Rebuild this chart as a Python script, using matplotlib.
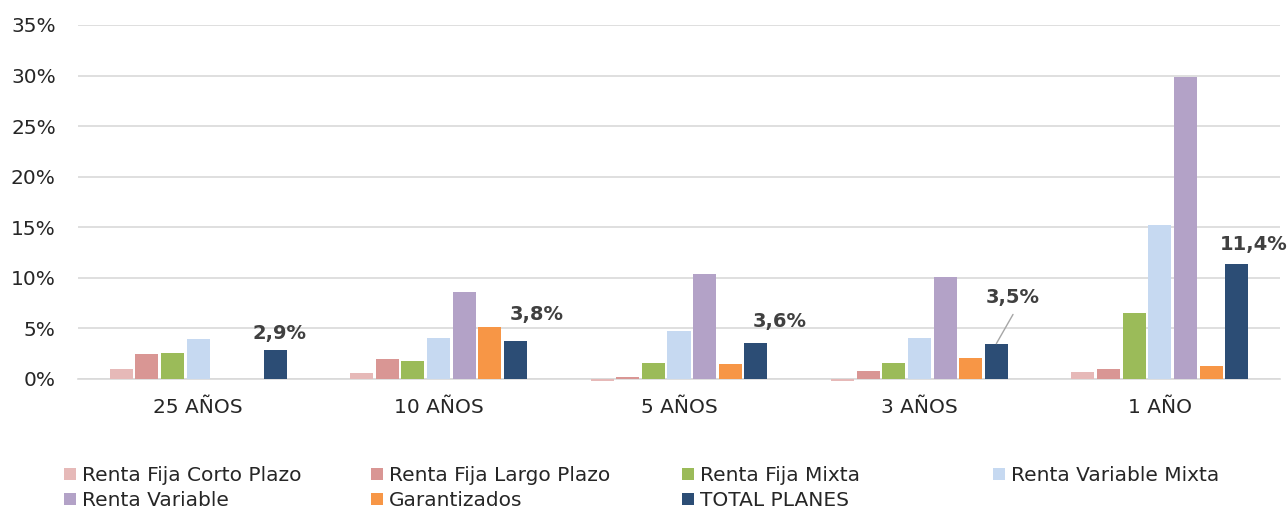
import matplotlib
matplotlib.use("Agg")
import matplotlib.pyplot as plt
import numpy as np

# datos
periodos = ["25 AÑOS", "10 AÑOS", "5 AÑOS", "3 AÑOS", "1 AÑO"]
series = ["Renta Fija Corto Plazo", "Renta Fija Largo Plazo", "Renta Fija Mixta",
          "Renta Variable Mixta", "Renta Variable", "Garantizados", "TOTAL PLANES"]
rf_corto = [1.0, 0.6, -0.15, -0.15, 0.7]
rf_largo = [2.5, 2.0, 0.15, 0.8, 1.0]
rf_mixta = [2.6, 1.8, 1.6, 1.6, 6.5]
rv_mixta = [4.0, 4.1, 4.7, 4.1, 15.2]
rv = [np.nan, 8.6, 10.4, 10.1, 29.9]
garantizados = [np.nan, 5.1, 1.5, 2.1, 1.3]
total = [2.9, 3.8, 3.6, 3.5, 11.4]
etiquetas_total = ["2,9%", "3,8%", "3,6%", "3,5%", "11,4%"]

valores = [rf_corto, rf_largo, rf_mixta, rv_mixta, rv, garantizados, total]
colores = ["#E6B9B8", "#D99694", "#9BBB59", "#C6D9F1", "#B3A2C7", "#F79646", "#2C4D75"]

fig = plt.figure(figsize=(12.87, 5.08), dpi=100)
ax = fig.add_axes([78 / 1287, (508 - 379) / 508, (1280 - 78) / 1287, (379 - 25) / 508])

x = np.arange(len(periodos))
paso = 0.1067
ancho = 0.096
barras = []
for i, (vals, col) in enumerate(zip(valores, colores)):
    b = ax.bar(x + (i - 3) * paso, vals, ancho, color=col, label=series[i],
               zorder=3, clip_on=False)
    barras.append(b)

# etiquetas de TOTAL PLANES (desplazadas como en el original)
desp = [(3, -12), (15, -19), (17, -15), (12, -33), (12, -14)]
for xi, v, t, d in zip(x, total, etiquetas_total, desp):
    xb = xi + 3 * paso
    ax.annotate(t, xy=(xb, v), xytext=(d[0], -d[1]), textcoords="offset points",
                ha="center", va="center", fontsize=14, fontweight="bold", color="#404040")
    if d[1] < -25:
        # linea guia desde la etiqueta hasta la barra
        ax.annotate("", xy=(xb, v), xytext=(d[0], -d[1] - 12), textcoords="offset points",
                    arrowprops=dict(arrowstyle="-", color="#A6A6A6", lw=1,
                                    shrinkA=0, shrinkB=0))

ax.set_ylim(0, 35)
ax.set_xlim(-0.5, 4.5)
ax.set_yticks(np.arange(0, 36, 5))
ax.set_yticklabels([f"{v}%" for v in range(0, 36, 5)])
ax.set_xticks(x)
ax.set_xticklabels(periodos)
ax.tick_params(axis="both", length=0, labelsize=14.5, labelcolor="#262626")
ax.tick_params(axis="y", pad=16)
ax.tick_params(axis="x", pad=14)
ax.grid(axis="y", color="#D9D9D9", lw=1.2, zorder=0)
for s in ["top", "right", "left"]:
    ax.spines[s].set_visible(False)
ax.spines["bottom"].set_color("#D9D9D9")
ax.spines["bottom"].set_linewidth(1.2)
ax.spines["bottom"].set_zorder(2)

# leyenda en 4 columnas de ancho fijo
col_x = [64, 371, 682, 993]
for j in range(4):
    hs = [barras[k] for k in (j, j + 4) if k < len(barras)]
    ls = [series[k] for k in (j, j + 4) if k < len(series)]
    fig.legend(hs, ls, loc="upper left", bbox_to_anchor=(col_x[j] / 1287, 1 - 466 / 508),
               frameon=False, fontsize=14.5, handlelength=0.6, handleheight=0.6,
               handletextpad=0.3, labelspacing=0.3, borderpad=0, borderaxespad=0,
               labelcolor="#262626")

fig.savefig("out.png", dpi=100)
